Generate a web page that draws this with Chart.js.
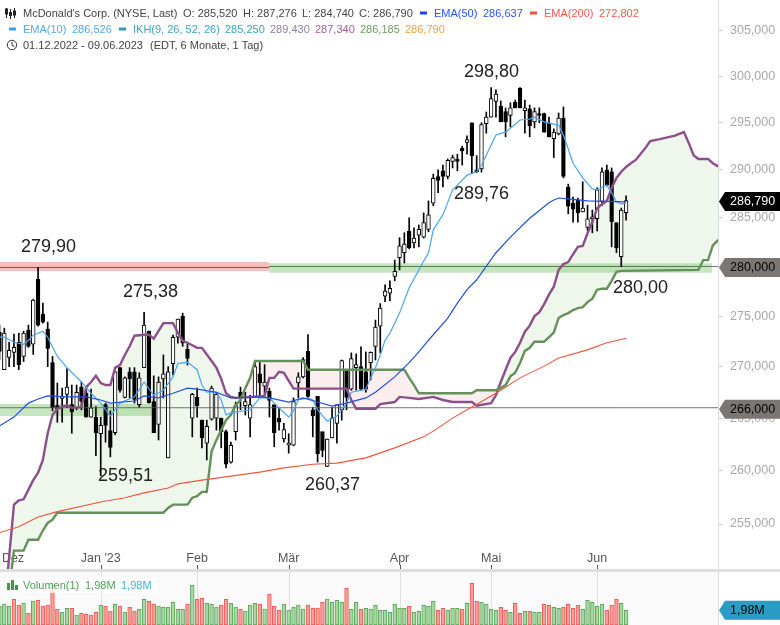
<!DOCTYPE html>
<html><head><meta charset="utf-8">
<style>
html,body{margin:0;padding:0;background:#fff;width:780px;height:625px;overflow:hidden}
canvas{position:absolute;left:0;display:block}
#sep{position:absolute;left:0;top:569px;width:780px;height:3px;background:#dedede}
</style>
<script src="https://cdn.jsdelivr.net/npm/chart.js@4"></script>
</head><body>
<canvas id="main" width="780" height="569" style="top:0"></canvas>
<div id="sep"></div>
<canvas id="vol" width="780" height="53" style="top:572px"></canvas>
<script>
const opens=[273.4,269.7,270.9,271.4,272.4,271.0,273.6,272.2,278.7,275.2,273.7,270.4,266.2,266.9,267.3,266.3,266.0,268.0,267.4,265.1,265.1,263.5,266.3,263.8,263.6,269.9,267.0,269.5,269.5,266.3,269.9,273.5,266.6,264.4,268.8,261.2,270.3,272.9,275.0,271.7,265.0,267.0,264.8,262.6,264.9,265.0,265.0,263.7,260.8,263.7,267.5,266.2,265.0,267.1,269.3,268.1,267.6,266.3,265.0,263.0,262.4,262.4,268.4,269.0,271.5,265.8,267.1,263.7,260.4,263.1,264.5,265.8,269.6,267.8,269.9,270.0,269.5,270.4,272.0,274.0,277.0,277.3,279.0,280.9,281.4,283.6,282.4,283.2,283.0,283.8,286.5,289.3,289.9,289.3,290.9,291.1,292.3,292.9,295.0,290.0,290.1,294.9,295.6,297.3,296.8,296.2,295.8,297.2,298.7,296.3,296.5,295.1,296.0,296.0,295.0,293.3,293.8,295.5,288.2,286.5,286.8,285.6,284.0,284.9,284.9,286.7,290.0,289.8,284.5,281.0,285.52];
const closes=[271.5,273.3,271.6,271.9,270.2,273.3,272.0,276.6,274.1,274.4,271.8,266.0,265.9,267.1,268.0,265.6,267.5,266.6,265.1,266.0,263.6,264.3,264.3,262.2,269.5,267.7,268.9,268.8,266.8,268.9,274.1,266.5,263.6,268.5,269.3,269.5,272.9,274.7,272.3,270.8,267.3,266.2,263.1,264.2,267.9,267.3,263.7,260.6,262.4,266.2,267.0,266.6,266.3,270.0,268.4,268.5,266.7,263.6,264.6,263.9,262.6,266.6,269.0,270.7,267.1,265.2,261.6,261.9,263.0,265.0,266.3,270.6,267.0,270.8,270.2,267.8,267.8,271.4,273.9,275.8,277.5,277.8,279.5,282.1,282.3,281.9,282.9,283.8,284.5,285.3,289.1,288.9,289.3,291.0,291.3,290.9,292.0,293.2,291.5,289.8,294.8,295.6,297.6,298.1,295.1,295.1,296.6,296.6,296.6,296.6,294.7,296.2,295.8,294.0,293.5,294.0,295.5,289.3,286.2,285.9,285.5,286.0,284.9,285.1,287.9,289.8,288.4,284.6,281.9,285.8,286.79];
const highs=[274.1,273.8,272.4,273.2,273.3,273.5,274.1,276.7,279.9,276.3,274.4,271.0,268.4,267.9,269.8,268.2,268.2,268.5,268.1,267.8,266.1,265.1,266.45,265.7,269.5,269.9,269.0,269.9,269.9,269.4,275.38,273.5,269.1,269.0,271.15,270.0,273.1,274.7,275.3,272.4,267.4,267.9,264.8,264.8,268.1,267.5,265.0,263.85,262.7,266.55,268.0,267.5,267.2,270.45,270.4,270.2,267.9,266.25,266.0,264.5,263.5,266.95,269.4,270.9,273.15,266.05,267.05,263.65,263.0,266.05,266.25,270.65,269.6,271.35,271.25,271.95,271.45,271.45,274.6,276.25,278.15,278.55,280.65,282.95,283.45,285.0,283.95,284.25,285.5,286.75,289.55,290.0,290.5,291.15,291.55,291.65,292.5,293.6,295.0,291.5,295.0,296.15,298.8,298.55,297.35,296.6,297.15,297.45,298.8,297.45,296.9,296.6,296.6,296.05,295.6,294.35,296.05,296.7,288.5,287.15,287.05,288.75,286.3,285.8,288.1,290.2,290.5,290.2,284.45,286.0,287.276];
const lows=[270.65,269.7,270.0,270.0,269.7,270.5,271.9,271.2,274.0,274.3,270.0,265.7,264.6,264.6,266.0,263.55,265.8,265.8,265.1,265.1,261.4,259.51,262.7,261.3,263.4,267.5,266.95,266.95,266.45,266.05,269.9,266.45,263.6,262.9,266.95,261.2,269.2,272.3,272.0,270.15,263.2,265.1,262.15,261.0,264.8,263.85,262.15,260.25,260.7,262.9,265.8,265.3,263.2,267.0,267.1,267.2,265.1,262.25,263.85,262.7,261.65,262.35,266.95,268.9,266.95,263.2,260.8,261.3,260.37,263.1,262.6,264.8,265.8,267.7,267.7,267.7,267.5,268.7,270.65,271.35,276.45,276.55,278.55,279.65,280.35,281.8,281.9,282.0,282.9,283.55,286.25,287.6,288.2,289.05,290.2,289.9,290.5,291.65,289.6,289.7,289.76,293.9,295.6,295.6,295.1,293.5,294.55,296.6,296.6,293.9,293.5,294.45,295.0,294.0,293.5,291.3,293.7,289.15,285.4,284.55,284.55,285.6,283.65,283.45,283.65,286.25,288.3,282.0,281.4,280.0,284.74];

const ema10Idx=[0,1,3,5,6,7,9,10,12,14,17,19,21,23,25,28,30,32,34,36,37,39,41,42,43,45,46,47,48,52,54,56,57,60,61,62,64,65,66,68,70,72,73,76,77,78,79,80,81,83,85,87,88,89,90,91,92,94,95,97,99,100,103,105,107,108,110,111,113,115,116,117,119,121,123,124,126,127,128,129,130];
const ema10Val=[272.9,272.9,272.4,272.2,272.6,273.1,273.5,272.9,271,269.9,268.5,267.4,266.45,265.2,266.45,267.05,268.5,267.2,267.7,269,270.3,270.45,269.7,268.2,267.5,267.5,266.75,265.3,265.5,265.8,266.95,266.95,266.45,265.1,265.7,266.75,266.95,266.75,265.8,264.7,265.2,266.45,267.5,267.8,268.9,269.9,271.15,272.6,273.3,275.3,277.85,279.65,280.55,281.4,283.75,284.55,285.3,287.9,288.4,289.45,289.8,290.5,293.7,294,294.85,295.3,295.4,295.6,295.1,294.85,294.75,293.7,290.7,289.15,288,287.9,288.4,287.6,286.65,286.45,286.526];
const ema50Idx=[0,3,6,8,10,14,18,21,23,28,30,33,36,39,41,45,48,54,56,60,63,66,69,72,76,78,82,85,87,89,93,95,97,99,103,106,110,114,115,116,118,122,130];
const ema50Val=[264.25,265.1,266.45,266.85,267.15,267.05,267.05,266.75,266.45,266.65,267.15,266.95,267.4,267.9,267.8,267.5,266.95,267.05,266.95,266.55,266.95,266.55,266.15,266.45,266.95,267.5,269,270.4,271.45,272.6,274.8,276.3,277.65,278.65,281.4,283,284.95,286.55,286.85,287.05,286.95,286.75,286.637];
const ema200Idx=[0,4,8,12,21,26,30,35,37,42,54,59,65,70,76,82,88,90,94,97,103,108,113,116,122,126,130];
const ema200Val=[254.2,254.75,255.65,256.15,257.05,257.45,257.9,258.35,258.75,259.1,259.85,260.25,260.6,260.7,261.2,262.15,263.2,263.75,265,265.8,267.4,268.9,270.05,270.85,271.65,272.35,272.802];
const spanBIdx=[1,3,4,5,7,8,9,10,11,12,14,15,17,18,19,20,21,22,23,24,25,26,27,28,30,31,32,34,36,37,38,39,41,42,44,45,46,47,48,49,53,55,56,57,58,59,61,72,73,74,78,79,82,83,85,87,90,92,94,98,99,102,103,104,105,106,107,108,109,110,111,112,113,114,115,116,117,118,119,120,121,122,123,124,125,126,127,128,129,130,131,132,134,135,137,139,140,142,143,144,145,147,148,149,150];
const spanBVal=[247.2,256.8,257.2,257.3,259.1,259.8,261,263.55,265.3,265.9,266.25,266,266.05,268,268.5,269.1,268.4,268.2,268.2,269.9,270.15,271.15,272,273.05,273.15,273.15,272.75,274.3,274.3,273.35,272.55,272.35,271.85,271.85,270.55,269.9,268.8,267.4,267.05,266.95,267.05,267.15,268.9,268.9,269.5,269.4,267.85,267.85,266.75,265.9,265.9,266.35,266.55,267.05,266.95,266.85,267.05,266.75,266.55,266.55,266.2,266.45,267.2,268.5,269.7,270.85,271.45,272.35,273.45,274.05,275,275.4,276.2,277.15,277.95,279.65,280.25,280.45,281.25,282,282.1,283.4,284.55,286,286.4,286.75,288.1,289.15,289.8,290.3,290.7,291.05,292.3,293.05,293.25,293.5,293.6,294,292.85,291.55,291.15,291.15,290.7,290.4,290.2];
const spanAIdx=[2,3,5,6,8,9,10,11,12,34,35,36,39,40,41,42,43,44,45,46,47,48,49,50,51,52,53,63,64,84,85,86,87,98,99,103,104,105,106,107,108,109,110,111,113,114,115,116,117,118,119,120,121,122,123,124,125,126,127,128,129,145,146,147,148,149,150];
const spanAVal=[249,252.55,252.55,253.55,253.55,254.4,255.1,255.4,256.05,256.05,256.5,256.8,256.8,257.45,257.6,258,258,261.8,262.9,263.85,264.8,265.3,266.25,266.75,267.9,268.9,270.55,270.55,269.7,269.7,268.9,268.2,267.4,267.4,267.7,267.7,267.9,268.2,269.05,269.4,270.35,271.55,271.85,272.45,272.45,272.9,273.35,274.8,275.1,275.3,275.6,275.8,275.9,276.4,276.75,277.65,277.75,277.75,278.55,279.45,279.55,279.65,280.65,280.65,282.15,282.65,282.9];
const volumes=[2.57,2.84,2.57,3.47,2.70,2.97,1.58,3.24,3.33,2.57,2.70,5.72,2.12,1.71,2.25,2.25,1.35,1.58,1.44,1.35,1.71,2.66,2.57,1.89,2.79,2.57,1.76,2.39,1.89,2.12,3.47,3.20,2.84,2.57,2.43,2.43,3.06,2.12,2.12,2.84,5.36,3.47,3.60,2.93,2.79,2.43,2.70,3.47,2.93,2.43,2.12,1.89,2.70,2.93,2.84,2.16,4.19,2.57,2.03,2.84,2.03,2.43,2.70,2.16,2.70,2.30,2.30,3.06,3.51,3.06,3.33,3.06,4.95,2.12,3.06,2.12,2.25,2.12,2.66,1.98,1.98,1.71,2.79,2.25,2.25,2.52,1.71,1.85,2.66,2.52,3.20,1.98,2.25,1.98,2.25,2.25,2.12,2.93,5.63,3.20,3.06,2.79,2.12,1.98,2.39,1.98,1.71,2.93,1.58,1.85,1.85,1.71,1.71,2.79,2.66,2.39,2.25,2.39,2.79,2.25,2.66,2.12,3.33,3.06,2.52,2.79,1.98,2.66,3.47,2.93,1.98];
const volumeDown=[0,0,0,1,1,0,1,0,1,1,1,1,1,0,0,1,0,1,1,1,1,0,1,1,0,1,0,1,1,0,0,1,1,0,0,0,0,0,0,1,0,1,1,0,0,0,1,1,0,0,1,0,0,0,1,0,1,1,1,0,0,0,0,0,1,1,1,1,0,0,0,0,1,0,0,1,0,0,0,0,0,0,0,0,0,1,0,0,0,0,0,1,1,0,0,0,1,0,1,1,0,0,0,0,1,1,0,1,1,0,1,0,0,1,1,0,0,1,1,1,1,0,0,0,0,0,1,1,1,0,0];
const priceTicks=[305,300,295,290,285,280,275,270,265,260,255];
const monthLabels=['Dez',"Jan '23",'Feb','Mär','Apr','Mai','Jun'];
const monthLabelPos=[2.8,21,41,60,83,102,124];
const monthTicks=[0,21,41,60,83,102,124];
const levelHigh=279.9, levelSupport=280, levelLow=266, lastClose=286.79;
const peakLabels=['298,80','289,76','279,90','275,38','259,51','260,37','280,00'];

const XMIN=0.104, XMAX=149.07, YTOP=308.45, YBOT=250.87;
const pts=(xs,ys)=>xs.map((x,i)=>({x,y:ys[i]}));
const idx=opens.map((_,i)=>i);
const FONT='"Liberation Sans"';

const GREEN='rgba(120,195,105,.42)';
const bands=[
 {label:'band1',type:'line',data:[{x:XMIN,y:280},{x:55.9,y:280}],borderColor:'rgba(238,110,110,.45)',borderWidth:9,pointRadius:0,order:20,fill:false,borderCapStyle:'butt'},
 {label:'band2',type:'line',data:[{x:55.9,y:279.85},{x:147.8,y:279.85}],borderColor:GREEN,borderWidth:9.5,pointRadius:0,order:20,fill:false,borderCapStyle:'butt'},
 {label:'band3',type:'line',data:[{x:XMIN,y:265.79},{x:32.3,y:265.79}],borderColor:GREEN,borderWidth:12,pointRadius:0,order:20,fill:false,borderCapStyle:'butt'},
 {label:'l1',type:'line',data:[{x:XMIN,y:levelHigh},{x:55.9,y:levelHigh}],borderColor:'rgba(110,50,50,.8)',borderWidth:1,pointRadius:0,order:19,fill:false},
 {label:'l2',type:'line',data:[{x:55.9,y:levelSupport},{x:XMAX,y:levelSupport}],borderColor:'rgba(60,95,60,.8)',borderWidth:1,pointRadius:0,order:19,fill:false},
 {label:'l3',type:'line',data:[{x:XMIN,y:levelLow},{x:XMAX,y:levelLow}],borderColor:'rgba(90,90,85,.85)',borderWidth:1,pointRadius:0,order:3,fill:false}
];
const wicks={label:'wick',type:'bar',data:idx.map(i=>({x:i,y:[lows[i],highs[i]]})),backgroundColor:'#000',borderWidth:0,barThickness:1,grouped:false,order:8};
const bodies={label:'body',type:'bar',data:idx.map(i=>({x:i,y:[opens[i],closes[i]]})),
 backgroundColor:idx.map(i=>closes[i]>=opens[i]?'#fff':'#000'),borderColor:'#000',borderWidth:1,borderSkipped:false,barThickness:3.8,grouped:false,order:7};
const line=(label,xs,ys,color,w,order,extra)=>Object.assign({label,type:'line',data:pts(xs,ys),borderColor:color,borderWidth:w,pointRadius:0,tension:0,fill:false,order},extra||{});
const spanA=line('spanA',spanAIdx,spanAVal,'#64905a',2.4,4);
const spanB=line('spanB',spanBIdx,spanBVal,'#8c4f8c',2.4,4,{fill:{target:0,above:'rgba(120,190,95,.12)',below:'rgba(235,120,120,.13)'}});
const ema200=line('ema200',ema200Idx,ema200Val,'#f2553f',1.1,2);
const ema50=line('ema50',ema50Idx,ema50Val,'#1f4fe6',1.2,2);
const ema10=line('ema10',ema10Idx,ema10Val,'#4aa5f2',1.2,2);
const datasets=[spanA,spanB,...bands,wicks,bodies,ema200,ema50,ema10];

function tag(ctx,y,fill,txt,textCol){
 const top=y-9.5,bot=y+9.5;
 ctx.fillStyle=fill;ctx.beginPath();ctx.moveTo(719,y);ctx.lineTo(725,top);ctx.lineTo(780,top);ctx.lineTo(780,bot);ctx.lineTo(725,bot);ctx.closePath();ctx.fill();
 ctx.fillStyle=textCol;ctx.font='12.5px '+FONT;ctx.textAlign='left';ctx.textBaseline='middle';ctx.fillText(txt,730,y+0.5);
}
function header(ctx){
 ctx.textBaseline='middle';ctx.textAlign='left';ctx.font='11px '+FONT;
 const T=(s,x,y,c)=>{ctx.fillStyle=c;ctx.fillText(s,x,y)};
 const D=(x,y,c)=>{ctx.fillStyle=c;ctx.fillRect(x,y-1.5,7,3)};
 const dk='#444';
 T("McDonald's Corp. (NYSE, Last)",23,13.5,dk);
 T('O: 285,520',183,13.5,dk);T('H: 287,276',243,13.5,dk);T('L: 284,740',302,13.5,dk);T('C: 286,790',359,13.5,dk);
 D(420,13,'#1f45f0');T('EMA(50)',434,13.5,'#2a55ff');T('286,637',483,13.5,'#2a55ff');
 D(530,13,'#f5503a');T('EMA(200)',544,13.5,'#f55a48');T('272,802',599,13.5,'#f55a48');
 D(9,29,'#3aa0f0');T('EMA(10)',23,29.5,'#55aaf0');T('286,526',72,29.5,'#55aaf0');
 D(119,29,'#2a9dc4');T('IKH(9, 26, 52, 26)',133,29.5,'#3aa5c8');T('285,250',225,29.5,'#3aa5c8');
 T('289,430',270,29.5,'#8a80a8');T('287,340',315,29.5,'#a0609a');T('286,185',360,29.5,'#709a60');T('286,790',405,29.5,'#f0a040');
 T('01.12.2022 - 09.06.2023',23,45.5,dk);T('(EDT, 6 Monate, 1 Tag)',150,45.5,dk);
 ctx.strokeStyle='#222';ctx.lineWidth=1;ctx.fillStyle='#222';
 [[6.5,8,18,9,14],[10.5,9,19,12,16],[14.5,8,18,11,15]].forEach((a,k)=>{
  ctx.beginPath();ctx.moveTo(a[0],a[1]);ctx.lineTo(a[0],a[2]);ctx.stroke();
  if(k==1)ctx.fillRect(a[0]-1.5,a[3],3,a[4]-a[3]);else ctx.strokeRect(a[0]-1,a[3],2,a[4]-a[3]);
 });
 ctx.strokeStyle='#333';ctx.beginPath();ctx.arc(12,45,4.7,0,Math.PI*2);ctx.stroke();
 ctx.beginPath();ctx.moveTo(12,42);ctx.lineTo(12,45.3);ctx.lineTo(14.5,46.5);ctx.stroke();
}
const mainPlugin={id:'mainDeco',afterDraw(chart){
 const ctx=chart.ctx,y=chart.scales.y,x=chart.scales.x;
 ctx.save();
 header(ctx);
 ctx.font='18px '+FONT;ctx.fillStyle='#222';ctx.textAlign='center';ctx.textBaseline='middle';
 const where=[[491.5,72],[481.5,194],[48.5,247],[150.5,292],[125.5,476],[332.5,485],[640.5,288]];
 peakLabels.forEach((t,k)=>ctx.fillText(t,where[k][0],where[k][1]));
 ctx.strokeStyle='#555';ctx.lineWidth=1;
 monthTicks.forEach(v=>{const px=Math.round(x.getPixelForValue(v))+0.5;ctx.beginPath();ctx.moveTo(px,565);ctx.lineTo(px,569);ctx.stroke();});
 tag(ctx,y.getPixelForValue(levelLow)+1.5,'#7b7672','266,000','#000');
 tag(ctx,y.getPixelForValue(levelSupport)+1,'#7b7672','280,000','#000');
 tag(ctx,y.getPixelForValue(lastClose)+1,'#000','286,790','#fff');
 ctx.restore();
}};
new Chart(document.getElementById('main'),{
 type:'bar',
 data:{datasets},
 plugins:[mainPlugin],
 options:{responsive:false,animation:false,devicePixelRatio:1,events:[],
  layout:{padding:0,autoPadding:false},
  plugins:{legend:{display:false},tooltip:{enabled:false},title:{display:false},filler:{drawTime:'beforeDatasetsDraw',propagate:false}},
  scales:{
   x:{type:'linear',min:XMIN,max:XMAX,offset:false,
    grid:{display:false,drawTicks:false},border:{display:false},
    afterBuildTicks(s){s.ticks=monthLabelPos.map(v=>({value:v}))},
    afterFit(s){s.height=0;s.paddingLeft=0;s.paddingRight=0;s.paddingTop=0;s.paddingBottom=0},
    ticks:{autoSkip:false,maxRotation:0,minRotation:0,mirror:true,padding:3,color:'#555',font:{family:FONT,size:12.5},
     callback:(v,i)=>monthLabels[i]}},
   y:{type:'logarithmic',position:'right',min:YBOT,max:YTOP,
    grid:{display:true,drawOnChartArea:false,drawTicks:true,tickLength:5,color:'#cfcfcf'},
    border:{display:true,color:'#dcdcdc'},
    afterBuildTicks(s){s.ticks=priceTicks.map(v=>({value:v}))},
    afterFit(s){s.width=62;s.paddingTop=0;s.paddingBottom=0;s.paddingLeft=0;s.paddingRight=0},
    ticks:{autoSkip:false,padding:7,color:'#a8a8a8',font:{family:FONT,size:12.5},align:'center',
     callback:v=>v.toFixed(3).replace('.',',')}}
  }}
});

const volPlugin={id:'volDeco',
 beforeDatasetsDraw(chart){const c=chart.ctx,a=chart.chartArea,x=chart.scales.x;c.save();c.fillStyle='#fafafa';c.fillRect(a.left,a.top,a.right-a.left,a.bottom-a.top);
  c.strokeStyle='#e0e0e0';c.lineWidth=1;monthTicks.slice(1).forEach(v=>{const px=Math.round(x.getPixelForValue(v))+0.5;c.beginPath();c.moveTo(px,0);c.lineTo(px,53);c.stroke();});c.restore();},
 afterDraw(chart){
 const c=chart.ctx;c.save();
 c.strokeStyle='#dcdcdc';c.lineWidth=1;c.beginPath();c.moveTo(718.5,0);c.lineTo(718.5,53);c.stroke();
 c.fillStyle='rgba(255,255,255,.75)';c.fillRect(5,5,152,16);
 c.fillStyle='#3f9a46';c.fillRect(7,11,3,7);c.fillRect(11,8,3,10);c.fillRect(15,13,3,5);
 c.font='11px '+FONT;c.textBaseline='middle';c.textAlign='left';
 c.fillStyle='#4fa057';c.fillText('Volumen(1)',23,13.5);c.fillText('1,98M',85,13.5);
 c.fillStyle='#4ab0d8';c.fillText('1,98M',121,13.5);
 const y=chart.scales.y.getPixelForValue(volumes[130]);
 c.fillStyle='#2b9cc4';c.beginPath();c.moveTo(719,y);c.lineTo(725,y-9.5);c.lineTo(780,y-9.5);c.lineTo(780,y+9.5);c.lineTo(725,y+9.5);c.closePath();c.fill();
 c.fillStyle='#000';c.font='12.5px '+FONT;c.fillText('1,98M',730,y+0.5);
 c.restore();
}};
new Chart(document.getElementById('vol'),{
 type:'bar',
 data:{datasets:[{label:'Volumen',data:idx.map(i=>({x:i,y:volumes[i]})),
  backgroundColor:idx.map(i=>volumeDown[i]?'#f79c96':'#a6d8a0'),
  borderColor:idx.map(i=>volumeDown[i]?'#ea5f5a':'#5ea75e'),borderWidth:1,borderSkipped:false,barThickness:3.8}]},
 plugins:[volPlugin],
 options:{responsive:false,animation:false,devicePixelRatio:1,events:[],
  layout:{padding:{left:0,right:62,top:0,bottom:0},autoPadding:false},
  plugins:{legend:{display:false},tooltip:{enabled:false}},
  scales:{
   x:{type:'linear',min:XMIN,max:XMAX,offset:false,display:false},
   y:{display:false,min:0,max:7.16}
  }}
});
</script>
</body></html>
